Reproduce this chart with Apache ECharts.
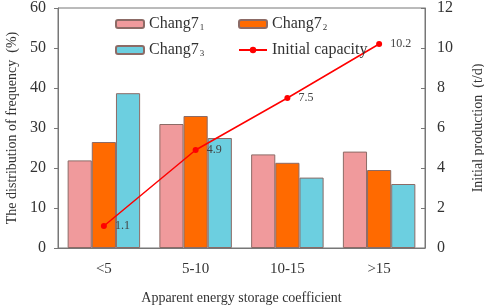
<!DOCTYPE html>
<html>
<head>
<meta charset="utf-8">
<script src="https://cdn.jsdelivr.net/npm/echarts@6/dist/echarts.min.js"></script>
<style>
  html, body { margin: 0; padding: 0; background: #fff; }
  #chart { width: 484px; height: 306px; }
</style>
</head>
<body>
<div id="chart"></div>
<script>
// values
const categories = ['<5', '5-10', '10-15', '>15']
const chang71 = [21.9, 31.0, 23.4, 24.1]
const chang72 = [26.5, 33.0, 21.3, 19.5]
const chang73 = [38.7, 27.5, 17.6, 16.0]
const capacity = [1.1, 4.9, 7.5, 10.2]

const FONT = '"Liberation Serif", "DejaVu Serif", serif'
const sub = { s: { fontSize: 9, verticalAlign: 'bottom', padding: [7, 0, 0, 1], fontFamily: FONT, color: '#333' } }
const names = {
  c1: 'Chang7{s|1}',
  c2: 'Chang7{s|2}',
  c3: 'Chang7{s|3}',
  cap: 'Initial capacity'
}

const barStyle = (color) => ({ color: color, borderColor: '#8c6b66', borderWidth: 1 })

const legendBase = {
  orient: 'vertical',
  top: 11,
  itemWidth: 28,
  itemHeight: 8,
  itemGap: 10,
  textStyle: { fontFamily: FONT, fontSize: 16, color: '#333', rich: sub }
}

const chart = echarts.init(document.getElementById('chart'))
chart.setOption({
  animation: false,
  backgroundColor: '#fff',
  textStyle: { fontFamily: FONT },
  grid: {
    left: 58, right: 59, top: 8, bottom: 58,
    outerBoundsMode: 'none',
    show: true, borderColor: '#777', borderWidth: 1
  },
  legend: [
    Object.assign({}, legendBase, { left: 110, data: [names.c1, names.c3] }),
    Object.assign({}, legendBase, { left: 233, data: [names.c2, names.cap] })
  ],
  xAxis: {
    type: 'category',
    data: categories,
    name: 'Apparent energy storage coefficient',
    nameLocation: 'middle',
    nameGap: 43,
    nameTextStyle: { fontFamily: FONT, fontSize: 14, color: '#333' },
    axisLine: { lineStyle: { color: '#777' } },
    axisTick: { inside: true, length: 3, lineStyle: { color: '#777' } },
    axisLabel: { fontFamily: FONT, fontSize: 15, color: '#333', margin: 14 }
  },
  yAxis: [
    {
      type: 'value', min: 0, max: 60, interval: 10,
      name: 'The distribution of frequency  (%)',
      nameLocation: 'middle', nameGap: 35,
      nameTextStyle: { fontFamily: FONT, fontSize: 14, color: '#333' },
      axisLine: { show: true, lineStyle: { color: '#777' } },
      axisTick: { show: true, length: 4, lineStyle: { color: '#777' } },
      axisLabel: { fontFamily: FONT, fontSize: 16, color: '#333', margin: 12 },
      splitLine: { show: false }
    },
    {
      type: 'value', min: 0, max: 12, interval: 2,
      name: 'Initial production  (t/d)',
      nameLocation: 'middle', nameGap: 46,
      nameRotate: 90,
      nameTextStyle: { fontFamily: FONT, fontSize: 14, color: '#333' },
      axisLine: { show: true, lineStyle: { color: '#777' } },
      axisTick: { show: true, inside: true, length: 4, lineStyle: { color: '#777' } },
      axisLabel: { fontFamily: FONT, fontSize: 16, color: '#333', margin: 12 },
      splitLine: { show: false }
    }
  ],
  series: [
    { name: names.c1, type: 'bar', data: chang71, barGap: '0%', barCategoryGap: '21%', itemStyle: barStyle('#f09a9c') },
    { name: names.c2, type: 'bar', data: chang72, itemStyle: barStyle('#ff6a00') },
    { name: names.c3, type: 'bar', data: chang73, itemStyle: barStyle('#6ccfe0') },
    {
      name: names.cap, type: 'line', yAxisIndex: 1, data: capacity,
      symbol: 'circle', symbolSize: 6,
      lineStyle: { color: '#ff0000', width: 1.5 },
      itemStyle: { color: '#ff0000' },
      label: {
        show: true, position: 'right', distance: 8,
        fontFamily: FONT, fontSize: 12, color: '#444'
      }
    }
  ]
})
</script>
</body>
</html>
